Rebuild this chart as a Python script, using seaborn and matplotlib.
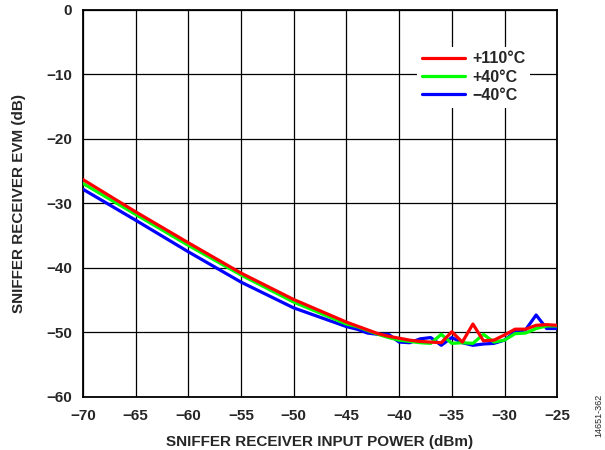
import numpy as np
import pandas as pd
import matplotlib.pyplot as plt
import seaborn as sns

# input power (dBm)
power = [-70, -65, -60, -55, -50, -45, -44, -43, -42, -41, -40, -39, -38, -37,
         -36, -35, -34, -33, -32, -31, -30, -29, -28, -27, -26, -25]

evm_110 = [-26.3, -31.3, -36.1, -40.8, -44.9, -48.4, -49.0, -49.6, -50.2, -50.6,
           -50.9, -51.2, -51.4, -51.5, -51.6, -49.9, -51.5, -48.7, -51.3, -51.2,
           -50.4, -49.5, -49.5, -48.9, -48.8, -48.9]
evm_40 = [-26.9, -31.7, -36.5, -41.1, -45.3, -48.7, -49.1, -49.7, -50.3, -50.8,
          -51.2, -51.4, -51.6, -51.7, -50.3, -51.7, -51.6, -51.7, -50.3, -51.5,
          -51.2, -50.2, -50.1, -49.4, -49.0, -49.0]
evm_m40 = [-27.8, -32.6, -37.5, -42.2, -46.2, -49.1, -49.5, -50.1, -50.3, -50.3,
           -51.5, -51.6, -51.0, -50.8, -52.0, -50.8, -51.6, -52.0, -51.8, -51.7,
           -51.2, -49.9, -49.6, -47.3, -49.4, -49.4]

labels = ['+110°C', '+40°C', '\u221240°C']
colors = ['#ff0000', '#00ff00', '#0000ff']

df = pd.concat([
    pd.DataFrame({'power': power, 'evm': vals, 'temp': lab})
    for vals, lab in zip([evm_110, evm_40, evm_m40], labels)
])

sns.set_style('white')
plt.rcParams['font.family'] = ['Liberation Sans', 'DejaVu Sans']

fig = plt.figure(figsize=(6.05, 4.5), dpi=100)
ax = fig.add_axes([0.137, 0.118, 0.784, 0.86])

# draw -40 first so the +110 trace sits on top, like the original
for lab, col in reversed(list(zip(labels, colors))):
    sns.lineplot(data=df[df['temp'] == lab], x='power', y='evm', color=col,
                 linewidth=2.3, label=lab, ax=ax, zorder=3)

ax.set_xlim(-70, -25)
ax.set_ylim(-60, 0)
ax.set_xticks(np.arange(-70, -24, 5))
ax.set_yticks(np.arange(-60, 1, 10))
ax.grid(True, color='black', linewidth=0.9)
for s in ax.spines.values():
    s.set_color('black')
    s.set_linewidth(1.3)
ax.tick_params(axis='both', labelsize=11, length=0)
ax.tick_params(axis='x', pad=9)
ax.tick_params(axis='y', pad=8)
for t in ax.get_xticklabels() + ax.get_yticklabels():
    t.set_fontweight('bold')

ax.set_xlabel('SNIFFER RECEIVER INPUT POWER (dBm)', fontsize=11, fontweight='bold', labelpad=8)
ax.set_ylabel('SNIFFER RECEIVER EVM (dB)', fontsize=11, fontweight='bold', labelpad=14)

handles, labs = ax.get_legend_handles_labels()
handles, labs = handles[::-1], labs[::-1]
leg = ax.legend(handles, labs, loc='upper left', bbox_to_anchor=(0.705, 0.905),
                frameon=True, fontsize=11.5, handlelength=2.7, handletextpad=0.45,
                labelspacing=0.2, borderpad=0.3, borderaxespad=0)
leg.get_frame().set_edgecolor('none')
leg.get_frame().set_facecolor('white')
leg.get_frame().set_alpha(1)
for t in leg.get_texts():
    t.set_fontweight('bold')
for h in leg.get_lines():
    h.set_linewidth(2.3)

fig.text(0.99, 0.029, '14651-362', rotation=90, fontsize=6.5, ha='center', va='bottom')

fig.savefig('out.png', dpi=100)
